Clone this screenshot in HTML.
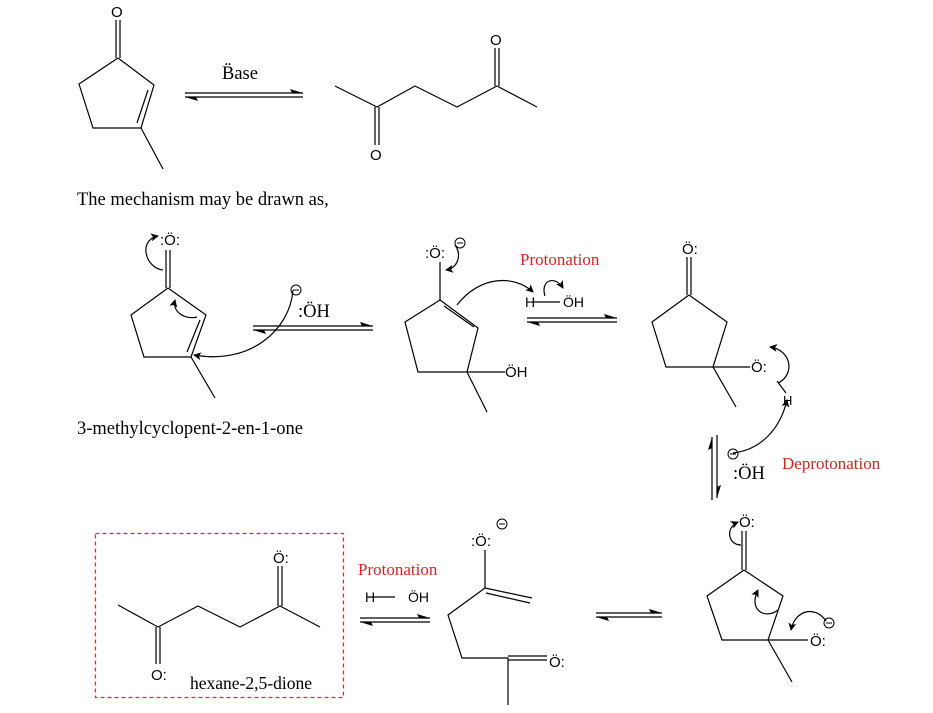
<!DOCTYPE html>
<html><head><meta charset="utf-8"><style>
html,body{margin:0;padding:0;background:#fff;}
svg{display:block}
.s{font-family:"Liberation Serif",serif;}
.a{font-family:"Liberation Sans",sans-serif;}
</style></head><body>
<svg width="933" height="713" viewBox="0 0 933 713" xmlns="http://www.w3.org/2000/svg">
<defs>
<marker id="ah" markerWidth="8" markerHeight="8" refX="7" refY="4" orient="auto" markerUnits="userSpaceOnUse"><path d="M0,0 L8,4 L0,8 L2,4 Z" fill="#000"/></marker>
</defs>
<g stroke="#000" stroke-width="1.2" fill="none">
<polyline points="118,58 154,85 141,128 93,128 79,84 118,58"/>
<line x1="141" y1="128" x2="163" y2="169"/>
<line x1="148" y1="90" x2="137" y2="123"/>
<line x1="116" y1="20" x2="116" y2="58"/><line x1="120" y1="20" x2="120" y2="58"/>
<line x1="185" y1="93" x2="303" y2="93"/><line x1="185" y1="97" x2="303" y2="97"/>
<polyline points="335,86 377,107 415,86 457,107 497,86 537,107"/>
<line x1="495" y1="48" x2="495" y2="86"/><line x1="499" y1="48" x2="499" y2="86"/>
<line x1="375" y1="107" x2="375" y2="145"/><line x1="379" y1="107" x2="379" y2="145"/>

<polyline points="168,288 206,315 191,357 144,357 131,315 168,288"/>
<line x1="191" y1="357" x2="215" y2="398"/>
<line x1="200" y1="320" x2="187" y2="352"/>
<line x1="166" y1="250" x2="166" y2="288"/><line x1="170" y1="250" x2="170" y2="288"/>
<path d="M163,270 C145,268 138,240 158,236" marker-end="url(#ah)"/>
<path d="M197,317 C185,320 172,312 175,300" marker-end="url(#ah)"/>
<path d="M293,290 C290,330 250,365 194,355" marker-end="url(#ah)"/>
<line x1="253" y1="326" x2="373" y2="326"/><line x1="253" y1="330" x2="373" y2="330"/>

<polyline points="440,300 478,328 467,372 418,372 405,322 440,300"/>
<line x1="467" y1="372" x2="487" y2="412"/>
<line x1="467" y1="372" x2="505" y2="372"/>
<line x1="440" y1="262" x2="440" y2="300"/>
<line x1="444" y1="306" x2="474" y2="327"/>
<path d="M455,245 C462,255 458,268 446,270" marker-end="url(#ah)"/>
<path d="M457,305 C480,275 515,275 533,292" marker-end="url(#ah)"/>
<line x1="533" y1="302" x2="560" y2="302"/>
<path d="M545,296 C540,280 555,275 563,288" marker-end="url(#ah)"/>
<line x1="527" y1="318" x2="617" y2="318"/><line x1="527" y1="322" x2="617" y2="322"/>

<polyline points="689,295 727,322 713,367 666,367 652,322 689,295"/>
<line x1="713" y1="367" x2="736" y2="407"/>
<line x1="713" y1="367" x2="750" y2="367"/>
<line x1="687" y1="257" x2="687" y2="295"/><line x1="691" y1="257" x2="691" y2="295"/>
<line x1="777" y1="381" x2="786" y2="393"/>
<path d="M778,383 C795,375 792,350 770,347" marker-end="url(#ah)"/>
<path d="M733,453 C760,450 780,430 787,400" marker-end="url(#ah)"/>
<line x1="712" y1="437" x2="712" y2="500"/><line x1="717" y1="435" x2="717" y2="498"/>

<polyline points="744,570 783,596 768,640 722,640 707,596 744,570"/>
<line x1="768" y1="640" x2="792" y2="682"/>
<line x1="768" y1="640" x2="808" y2="640"/>
<line x1="742" y1="531" x2="742" y2="570"/><line x1="746" y1="531" x2="746" y2="570"/>
<path d="M741,545 C728,545 725,528 738,522" marker-end="url(#ah)"/>
<path d="M778,610 C765,620 748,610 758,590" marker-end="url(#ah)"/>
<path d="M826,621 C815,605 795,610 791,630" marker-end="url(#ah)"/>
<line x1="596" y1="613" x2="662" y2="613"/><line x1="596" y1="617" x2="662" y2="617"/>

<line x1="485" y1="550" x2="485" y2="588"/>
<line x1="485" y1="588" x2="532" y2="598"/>
<line x1="486" y1="593" x2="530" y2="603"/>
<polyline points="485,588 448,615 462,658 508,658 508,705"/>
<line x1="508" y1="656" x2="547" y2="656"/><line x1="508" y1="660" x2="547" y2="660"/>
<line x1="368" y1="597" x2="395" y2="597"/>
<line x1="360" y1="618" x2="430" y2="618"/><line x1="360" y1="622" x2="430" y2="622"/>

<rect x="95.5" y="533.5" width="248" height="164" stroke="#e82828" stroke-dasharray="4,3"/>
<polyline points="118,605 158,627 198,606 240,627 280,606 320,627"/>
<line x1="278" y1="566" x2="278" y2="606"/><line x1="282" y1="566" x2="282" y2="606"/>
<line x1="156" y1="627" x2="156" y2="664"/><line x1="160" y1="627" x2="160" y2="664"/>
</g>
<g fill="#000">
<path d="M303,93 L290,89 L292,93 Z"/><path d="M185,97 L198,101 L196,97 Z"/>
<path d="M373,326 L360,322 L362,326 Z"/><path d="M253,330 L266,334 L264,330 Z"/>
<path d="M617,318 L604,314 L606,318 Z"/><path d="M527,322 L540,326 L538,322 Z"/>
<path d="M662,613 L649,609 L651,613 Z"/><path d="M596,617 L609,621 L607,617 Z"/>
<path d="M430,618 L417,614 L419,618 Z"/><path d="M360,622 L373,626 L371,622 Z"/>
<path d="M712,437 L708,450 L712,448 Z"/><path d="M717,498 L721,485 L717,487 Z"/>
</g>
<g class="a" font-size="15" fill="#000">
<text x="111" y="17">O</text>
<text x="490" y="45">O</text>
<text x="370" y="160">O</text>
<text x="160" y="245">:Ö:</text>
<text x="425" y="258">:Ö:</text>
<text x="505" y="377">ÖH</text>
<text x="525" y="307" font-size="14">H</text>
<text x="563" y="307" font-size="14">ÖH</text>
<text x="682" y="254">Ö:</text>
<text x="751" y="372">Ö:</text>
<text x="783" y="405" font-size="13">H</text>
<text x="739" y="527">Ö:</text>
<text x="810" y="646">Ö:</text>
<text x="471" y="546">:Ö:</text>
<text x="549" y="667">Ö:</text>
<text x="365" y="602" font-size="14">H</text>
<text x="408" y="602" font-size="14">ÖH</text>
<text x="273" y="563">Ö:</text>
<text x="151" y="680">O:</text>
</g>
<g fill="none" stroke="#000" stroke-width="1">
<circle cx="296" cy="290" r="5"/><circle cx="460" cy="243" r="5"/>
<circle cx="733" cy="454" r="5"/><circle cx="829" cy="623" r="5"/><circle cx="502" cy="524" r="5"/>
</g>
<g stroke="#000" stroke-width="1"><line x1="293" y1="290" x2="299" y2="290"/><line x1="457" y1="243" x2="463" y2="243"/><line x1="730" y1="454" x2="736" y2="454"/><line x1="826" y1="623" x2="832" y2="623"/><line x1="499" y1="524" x2="505" y2="524"/></g>
<g class="s" fill="#000" font-size="18.5">
<text x="222" y="79">B̈ase</text>
<text x="77" y="205">The mechanism may be drawn as,</text>
<text x="298" y="317">:ÖH</text>
<text x="77" y="434">3-methylcyclopent-2-en-1-one</text>
<text x="733" y="479">:ÖH</text>
<text x="190" y="689" font-size="17.5">hexane-2,5-dione</text>
</g>
<g class="s" fill="#e02020" font-size="17">
<text x="520" y="265">Protonation</text>
<text x="782" y="469">Deprotonation</text>
<text x="358" y="575">Protonation</text>
</g>
</svg>
</body></html>
